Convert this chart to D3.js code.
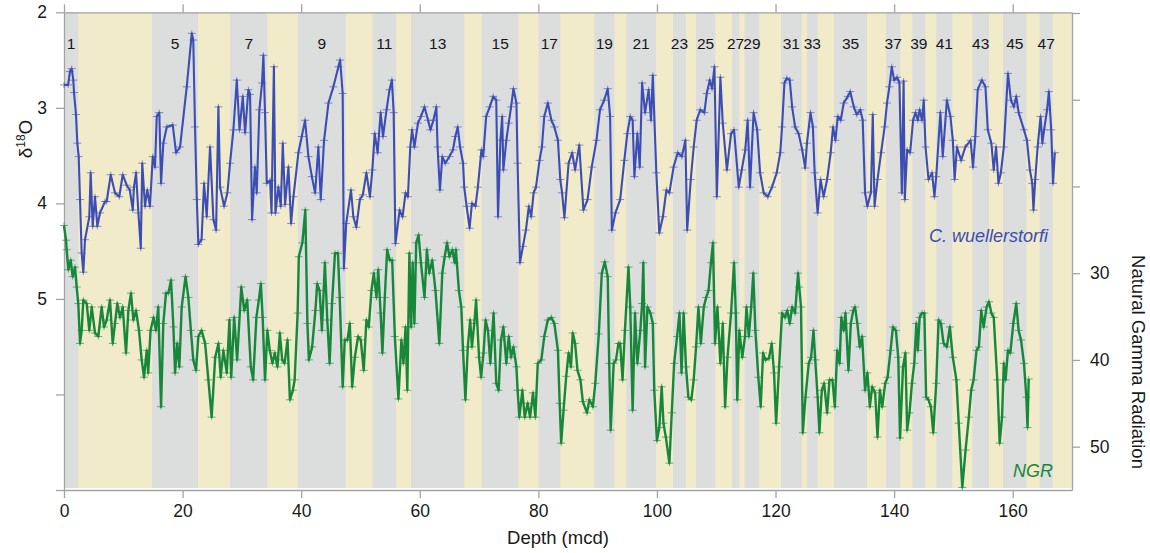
<!DOCTYPE html>
<html>
<head>
<meta charset="utf-8">
<script src="https://cdn.jsdelivr.net/npm/d3@7"></script>
<style>
  body { margin: 0; background: #fff; }
  svg text { font-family: "Liberation Sans", Arial, Helvetica, sans-serif; }
</style>
</head>
<body>
<svg id="chart" width="1150" height="553"></svg>
<script>
// marine isotope stages (odd = interglacial, grey bands), depth in mcd
var stageNumbers = [1, 5, 7, 9, 11, 13, 15, 17, 19, 21, 23, 25, 27, 29, 31, 33, 35, 37, 39, 41, 43, 45, 47];
var stageTop = [0, 14.85, 28.01, 39.43, 52.02, 58.55, 70.47, 80.02, 89.42, 94.82, 102.70, 106.58, 112.65,
                114.78, 120.92, 125.31, 129.86, 138.64, 143.07, 147.12, 153.20, 158.38, 164.55];
var stageBase = [2.41, 22.61, 34.30, 47.53, 56.0, 67.50, 76.65, 83.68, 92.85, 99.83, 104.89, 109.84, 113.89,
                 117.26, 124.40, 127.10, 135.43, 141.05, 145.27, 149.82, 156.02, 162.31, 166.75];

var depthTicks = [0, 20, 40, 60, 80, 100, 120, 140, 160];
var d18oTicks = [2, 3, 4, 5, 6, 7];
var d18oLabels = [2, 3, 4, 5];
var ngrTicks = [0, 10, 20, 30, 40, 50];
var ngrLabels = [30, 40, 50];

// C. wuellerstorfi d18O  [depth, value]
var d18o = [[0,2.76],[0.7,2.76],[1.0,2.62],[1.3,2.59],[1.57,2.71],[1.69,2.84],[2.02,3.07],[2.25,3.37],[2.48,3.51],
  [2.7,3.96],[2.98,4.52],[3.26,4.72],[3.54,4.38],[4.27,4.14],[4.5,3.68],[4.84,4.24],[5.23,3.93],[5.62,4.24],
  [6.07,4.10],[6.92,3.98],[7.2,3.98],[7.88,3.70],[8.6,3.89],[9.33,3.93],[9.9,3.70],[10.57,3.81],[11.1,3.86],
  [11.6,4.07],[11.8,3.83],[12.15,3.68],[12.55,4.10],[12.95,4.47],[13.2,3.58],[13.66,4.03],[14.05,3.86],[14.5,4.03],
  [14.97,3.51],[15.35,3.62],[15.64,3.09],[16.07,3.05],[16.37,3.79],[16.75,3.37],[17.33,3.20],[18.34,3.18],
  [18.9,3.47],[19.57,3.41],[20.7,2.78],[21.55,2.22],[21.8,2.29],[22.1,3.20],[22.4,3.96],[22.66,4.43],[23.2,4.38],
  [23.62,3.79],[24.07,4.14],[24.63,3.41],[25.2,4.17],[25.65,4.28],[26.04,2.99],[26.32,3.83],[27.0,4.03],
  [27.56,3.89],[28.0,3.58],[28.57,3.23],[29.14,2.71],[29.6,3.23],[30.15,2.88],[30.54,3.26],[31.1,2.81],
  [31.38,2.86],[31.72,4.17],[32.2,3.62],[32.5,3.89],[32.95,3.02],[33.4,2.74],[33.63,2.45],[33.9,3.05],[34.2,3.79],
  [34.75,3.76],[35.0,4.10],[35.4,2.57],[35.66,4.10],[36.16,3.83],[36.56,4.03],[36.9,3.37],[37.29,4.01],
  [37.85,3.62],[38.3,4.21],[38.7,3.93],[39.53,3.47],[40.1,3.30],[40.66,3.13],[41.22,3.51],[41.8,3.72],
  [42.35,3.89],[42.9,3.41],[43.3,3.96],[43.86,3.34],[44.6,2.95],[45.43,2.78],[46.28,2.57],[46.57,2.50],
  [47.0,2.85],[47.2,4.68],[47.6,4.21],[48.4,3.86],[48.8,4.14],[49.3,4.25],[49.9,3.96],[50.4,3.91],[51.0,3.68],
  [51.6,3.93],[52.0,3.65],[52.4,3.27],[52.9,3.47],[53.4,3.05],[53.8,3.30],[54.4,3.02],[54.9,2.81],[55.3,2.71],
  [55.6,3.05],[55.9,4.42],[56.6,4.07],[57.1,4.14],[57.6,3.89],[58.0,3.93],[58.4,3.41],[58.7,3.23],[59.1,3.41],
  [59.7,3.16],[60.2,3.09],[60.8,2.99],[61.4,3.13],[61.8,3.23],[62.3,3.13],[62.8,2.99],[63.0,3.41],[63.4,3.86],
  [63.8,3.51],[64.3,3.58],[65.0,3.51],[65.6,3.44],[66.0,3.30],[66.4,3.20],[66.8,3.41],[67.3,3.58],[67.5,3.83],
  [67.9,4.03],[68.4,4.26],[68.8,4.00],[69.4,4.03],[69.8,3.83],[70.4,3.44],[70.7,3.51],[71.2,3.09],[71.8,2.99],
  [72.4,2.88],[72.9,2.92],[73.2,4.14],[73.6,3.34],[73.9,3.09],[74.1,3.65],[74.6,3.34],[75.0,3.16],[75.4,2.99],
  [75.8,2.80],[76.3,2.95],[76.5,3.58],[76.9,4.62],[77.4,4.45],[77.9,4.28],[78.4,4.03],[78.8,4.14],[79.2,3.89],
  [79.6,3.83],[80.2,3.55],[80.6,3.41],[81.0,3.09],[81.6,2.95],[82.2,3.13],[82.7,3.20],[83.3,3.34],[83.7,3.75],
  [84.0,3.89],[84.4,4.15],[85.1,3.58],[85.7,3.47],[86.2,3.65],[86.9,3.39],[87.6,4.07],[88.3,3.96],[89.0,3.62],
  [89.8,3.34],[90.4,3.02],[91.1,2.92],[91.7,2.80],[92.1,3.09],[92.4,4.28],[93.0,4.10],[93.8,3.96],[94.5,3.55],
  [95.0,3.27],[95.5,3.09],[95.9,3.13],[96.2,3.72],[96.7,3.27],[97.1,3.62],[97.5,2.74],[98.0,3.05],[98.6,2.81],
  [99.0,3.13],[99.3,2.66],[99.9,3.68],[100.4,4.31],[101.0,4.14],[101.6,3.86],[102.1,3.89],[102.8,3.62],
  [103.5,3.47],[104.2,3.51],[104.8,3.34],[105.1,4.28],[105.7,3.75],[106.2,3.41],[106.7,3.13],[107.3,3.02],
  [108.0,3.05],[108.4,2.85],[108.9,2.71],[109.3,2.80],[109.7,2.57],[110.1,3.93],[110.7,2.68],[111.1,3.16],
  [111.8,3.65],[112.5,3.27],[113.0,3.23],[113.8,3.83],[114.3,3.65],[114.9,3.44],[115.3,3.13],[115.7,3.83],
  [116.3,3.05],[116.9,3.23],[117.4,3.68],[118.0,3.89],[118.7,3.93],[119.4,3.83],[120.2,3.68],[120.8,3.47],
  [121.1,3.20],[121.5,2.74],[121.9,2.69],[122.4,2.71],[122.8,2.99],[123.3,3.20],[123.9,3.27],[124.5,3.44],
  [125.0,3.63],[125.3,3.37],[125.9,3.05],[126.3,3.20],[126.6,3.68],[127.1,4.10],[127.6,3.75],[128.1,3.93],
  [128.7,3.75],[129.3,3.47],[129.7,3.20],[130.1,3.34],[130.5,3.09],[131.0,3.13],[131.5,2.95],[132.2,2.88],
  [132.6,2.83],[133.2,2.99],[133.7,3.07],[134.3,3.02],[134.7,3.13],[135.1,3.89],[135.5,4.03],[136.1,3.88],
  [136.4,3.07],[136.7,4.03],[137.2,3.75],[137.8,3.47],[138.4,3.20],[138.8,2.95],[139.2,2.78],[139.6,2.57],
  [140.0,2.71],[140.5,2.68],[140.9,2.74],[141.3,3.89],[141.6,2.72],[141.8,3.96],[142.2,3.44],[142.7,3.47],
  [143.2,3.13],[143.6,3.05],[144.0,3.13],[144.3,3.02],[144.7,3.13],[145.0,2.92],[145.3,3.41],[145.8,3.75],
  [146.4,3.68],[146.8,3.93],[147.1,3.72],[147.8,3.05],[148.2,3.51],[148.9,2.92],[149.5,3.09],[149.9,3.34],
  [150.2,3.75],[150.6,3.41],[151.3,3.55],[152.0,3.41],[152.9,3.34],[153.3,3.62],[153.7,3.30],[154.1,2.81],
  [154.8,2.71],[155.4,2.78],[155.8,3.23],[156.4,3.37],[156.8,3.65],[157.2,3.41],[157.6,3.79],[158.0,3.68],
  [158.5,3.41],[159.2,2.64],[159.7,2.92],[160.2,2.99],[160.6,2.88],[161.0,3.05],[161.9,3.23],[162.4,3.34],
  [162.9,3.65],[163.3,3.79],[163.5,4.07],[163.8,3.75],[164.2,3.41],[164.7,3.09],[165.0,3.37],[165.3,3.23],
  [165.8,3.02],[166.1,2.83],[166.5,3.23],[166.8,3.79],[167.1,3.47]];

// natural gamma radiation  [depth, value]
var ngr = [[0,24.5],[0.34,26.2],[0.45,27.3],[0.73,29.6],[1.13,28.5],[1.46,30.4],[1.86,29.3],[2.14,31.6],[2.41,33.5],
  [2.7,38.1],[2.98,36.6],[3.26,33.1],[3.83,33.5],[4.27,36.6],[4.67,33.9],[5.23,36.9],[5.79,37.3],[6.35,33.9],
  [6.75,36.2],[7.2,35.4],[7.76,33.1],[8.21,38.1],[8.6,35.8],[8.99,33.5],[9.45,35.1],[9.9,33.9],[10.46,39.2],
  [10.85,34.3],[11.3,32.3],[11.7,35.4],[12.15,34.3],[12.65,36.6],[13.1,40.0],[13.5,42.0],[13.95,38.9],[14.2,41.5],
  [14.6,36.6],[15.1,35.1],[15.5,36.6],[15.9,33.9],[16.37,45.4],[16.75,35.8],[17.2,32.3],[17.6,32.3],[18.05,30.8],
  [18.45,36.2],[18.73,41.5],[19.1,38.1],[19.45,40.8],[19.85,33.9],[20.5,30.4],[20.97,32.8],[21.4,36.6],[21.8,40.0],
  [22.27,41.2],[22.66,37.3],[23.2,36.6],[23.8,38.1],[24.35,42.3],[24.9,46.6],[25.5,39.7],[26.05,38.1],[26.43,42.0],
  [26.88,38.9],[27.45,41.5],[27.9,35.4],[28.2,42.0],[28.7,35.1],[29.2,40.0],[29.9,31.6],[30.4,34.3],[30.9,33.1],
  [31.5,40.8],[31.9,42.3],[32.45,35.1],[32.85,33.1],[33.2,31.2],[33.5,35.1],[33.9,42.3],[34.3,36.6],[34.7,38.9],
  [35.15,40.4],[35.55,39.2],[36.0,40.8],[36.4,36.9],[36.8,40.0],[37.2,40.4],[37.7,37.7],[38.1,44.6],[38.6,43.5],
  [38.9,42.3],[39.4,34.6],[39.6,28.1],[40.2,26.5],[40.7,22.7],[41.05,35.8],[41.3,40.0],[41.85,38.5],[42.4,34.3],
  [42.7,31.2],[43.1,32.0],[43.5,36.6],[44.0,28.8],[44.4,35.4],[44.8,40.4],[45.2,33.5],[45.7,27.7],[46.2,27.7],
  [46.5,32.8],[47.0,43.1],[47.35,37.7],[47.8,37.7],[48.2,35.8],[48.6,43.1],[49.05,39.7],[49.6,37.3],[50.05,37.7],
  [50.55,41.2],[51.0,35.4],[51.4,36.2],[51.85,32.0],[52.25,30.0],[52.7,32.8],[53.0,29.6],[53.4,34.6],[53.7,39.2],
  [54.1,32.8],[54.5,27.3],[54.95,28.5],[55.35,28.5],[55.8,37.3],[56.4,44.5],[56.9,37.7],[57.25,40.4],[57.6,36.2],
  [57.9,43.5],[58.25,27.7],[58.55,36.2],[58.8,28.8],[59.1,35.8],[59.4,26.5],[59.8,25.6],[60.2,28.8],[60.8,32.8],
  [61.2,27.3],[61.6,30.0],[62.1,28.5],[62.65,32.0],[63.3,38.1],[63.8,30.0],[64.2,28.1],[64.6,26.5],[65.0,28.1],
  [65.5,27.3],[65.9,28.8],[66.1,27.3],[66.6,32.0],[67.0,33.9],[67.3,38.9],[67.7,44.6],[68.1,38.5],[68.5,35.4],
  [68.8,38.5],[69.2,35.8],[69.5,33.1],[70.0,39.7],[70.35,42.0],[70.75,39.2],[71.1,35.4],[71.5,36.6],[71.9,40.4],
  [72.45,34.6],[72.9,42.7],[73.3,43.5],[73.7,37.7],[74.1,36.2],[74.6,40.4],[75.0,37.3],[75.4,39.7],[75.8,38.5],
  [76.3,40.8],[76.5,43.5],[76.8,46.6],[77.3,43.5],[77.7,46.6],[78.2,45.0],[78.6,46.6],[79.1,43.8],[79.5,46.6],
  [79.9,40.4],[80.5,40.0],[81.0,37.3],[81.6,35.4],[82.2,35.1],[82.7,35.8],[83.3,38.9],[83.6,45.0],[83.85,49.6],
  [84.25,45.8],[84.7,41.9],[85.1,39.2],[85.5,40.8],[85.8,36.9],[86.2,38.1],[86.6,41.2],[87.1,42.3],[87.5,44.8],
  [88.2,46.1],[88.6,44.6],[89.2,45.4],[89.6,42.7],[90.2,37.0],[90.7,30.0],[91.2,28.7],[91.7,30.4],[91.95,40.4],
  [92.2,48.1],[92.7,40.4],[93.1,40.0],[93.5,38.1],[93.8,38.1],[94.2,42.3],[94.6,36.6],[95.2,29.3],[95.5,33.9],
  [95.9,45.8],[96.3,34.6],[96.7,40.4],[97.2,36.6],[97.5,33.5],[97.7,28.8],[98.0,40.8],[98.4,33.9],[98.9,34.6],
  [99.3,35.8],[99.55,43.5],[100.0,49.3],[100.4,47.8],[100.8,43.1],[101.1,47.3],[101.5,48.9],[102.1,51.9],
  [102.5,46.1],[102.9,40.4],[103.4,37.3],[103.8,34.6],[104.15,41.5],[104.5,34.6],[104.9,40.8],[105.3,44.3],
  [105.8,44.6],[106.2,42.3],[106.6,38.5],[107.0,33.9],[107.4,38.1],[107.9,33.9],[108.3,32.8],[108.7,32.0],
  [109.1,28.8],[109.45,26.5],[109.8,38.1],[110.2,33.9],[110.7,40.4],[111.1,35.8],[111.5,45.4],[111.9,39.7],
  [112.5,34.6],[113.0,28.8],[113.3,34.6],[113.55,44.6],[113.9,36.6],[114.4,39.7],[114.85,37.3],[115.1,33.9],
  [115.5,37.3],[115.9,33.9],[116.25,30.0],[116.6,36.6],[117.1,42.0],[117.5,45.4],[117.9,39.2],[118.3,40.0],
  [118.9,39.8],[119.35,38.1],[119.75,41.5],[120.1,47.3],[120.6,40.8],[121.1,34.6],[121.6,35.1],[122.0,34.3],
  [122.4,35.8],[122.8,33.9],[123.3,34.6],[123.8,30.0],[124.0,31.6],[124.3,33.9],[124.6,48.4],[125.05,44.3],
  [125.6,40.4],[126.0,39.7],[126.4,36.6],[126.7,40.0],[127.1,44.3],[127.4,48.4],[127.8,43.5],[128.2,42.7],
  [128.7,46.1],[129.1,42.3],[129.6,42.3],[130.0,45.4],[130.4,38.9],[130.8,40.4],[131.1,35.1],[131.5,36.6],
  [131.8,34.6],[132.3,41.2],[132.7,35.8],[133.1,34.3],[133.4,33.9],[133.8,35.8],[134.2,38.5],[134.6,37.3],
  [135.1,43.5],[135.5,41.5],[135.9,45.4],[136.3,43.1],[136.8,43.8],[137.2,48.9],[137.6,43.5],[138.0,45.4],
  [138.5,42.7],[138.9,42.0],[139.4,38.9],[139.8,36.2],[140.3,36.6],[140.7,39.7],[141.0,49.0],[141.5,40.8],
  [141.9,39.2],[142.2,48.1],[142.6,46.1],[143.0,42.7],[143.4,40.4],[143.75,35.8],[144.0,38.9],[144.3,35.1],
  [144.7,34.6],[145.1,34.6],[145.4,44.3],[145.8,44.6],[146.2,45.4],[146.6,48.4],[147.1,42.7],[147.5,35.4],
  [147.9,35.8],[148.35,38.1],[148.9,38.5],[149.4,36.2],[149.9,39.7],[150.5,42.3],[150.9,47.3],[151.5,54.7],
  [152.05,50.4],[152.6,46.6],[153.0,43.5],[153.4,42.3],[153.9,38.9],[154.3,38.5],[154.7,34.3],[155.1,36.2],
  [155.6,33.9],[156.0,33.3],[156.4,34.6],[156.8,35.1],[157.4,42.3],[157.8,49.6],[158.2,46.6],[158.5,40.4],
  [158.8,42.3],[159.2,38.9],[159.6,39.2],[160.1,35.8],[160.6,33.5],[161.0,36.6],[161.4,37.7],[161.9,40.4],
  [162.3,44.3],[162.5,47.8],[162.7,42.2]];

var blue = "#3c4db4", green = "#17873a", axisGrey = "#a3a3a3";

var svg = d3.select("#chart");

var x = d3.scaleLinear().domain([0, 170]).range([64, 1072]);
var yIso = d3.scaleLinear().domain([2, 7]).range([12.3, 490]);
var yNgr = d3.scaleLinear().domain([0, 55]).range([13, 490]);

// background: yellow (glacials) with grey interglacial bands
svg.append("rect")
   .attr("x", x(0)).attr("y", yIso(2))
   .attr("width", x(170) - x(0)).attr("height", 488 - yIso(2))
   .attr("fill", "#f1ebc9");

var stages = stageNumbers.map(function(n, i) { return {n: n, top: stageTop[i], base: stageBase[i]}; });

svg.append("g").selectAll("rect")
   .data(stages)
   .enter().append("rect")
     .attr("x", function(d) { return x(d.top); })
     .attr("y", yIso(2))
     .attr("width", function(d) { return x(d.base) - x(d.top); })
     .attr("height", 488 - yIso(2))
     .attr("fill", "#dcdddd");

svg.append("g").selectAll("text")
   .data(stages)
   .enter().append("text")
     .attr("x", function(d) { return x((d.top + d.base) / 2); })
     .attr("y", 49)
     .attr("text-anchor", "middle")
     .style("font-size", "15.5px")
     .style("fill", "#161616")
     .text(function(d) { return d.n; });

// axes
function styleAxis(g) {
  g.selectAll("path, line").attr("stroke", axisGrey).attr("stroke-width", 1.3);
  g.selectAll("text").style("font-size", "17.5px").style("fill", "#1a1a1a")
   .style("font-family", "'Liberation Sans', Arial, sans-serif");
}

svg.append("g")
   .attr("transform", "translate(0,490)")
   .call(d3.axisBottom(x).tickValues(depthTicks).tickSize(8).tickSizeOuter(0).tickPadding(7))
   .call(styleAxis);

svg.append("g")
   .attr("transform", "translate(0," + yIso(2) + ")")
   .call(d3.axisTop(x).tickValues(depthTicks).tickSize(8).tickSizeOuter(0).tickFormat(""))
   .call(styleAxis);

svg.append("g")
   .attr("transform", "translate(64,0)")
   .call(d3.axisLeft(yIso).tickValues(d18oTicks).tickSize(8).tickSizeOuter(0).tickPadding(9)
           .tickFormat(function(d) { return d18oLabels.indexOf(d) >= 0 ? d : ""; }))
   .call(styleAxis);

svg.append("g")
   .attr("transform", "translate(1072,0)")
   .call(d3.axisRight(yNgr).tickValues(ngrTicks).tickSize(8).tickSizeOuter(0).tickPadding(10)
           .tickFormat(function(d) { return ngrLabels.indexOf(d) >= 0 ? d : ""; }))
   .call(styleAxis);

// series
function drawSeries(data, yScale, colour, width) {
  var line = d3.line()
    .x(function(d) { return x(d[0]); })
    .y(function(d) { return yScale(d[1]); });

  var g = svg.append("g");
  g.append("path")
   .datum(data)
   .attr("d", line)
   .attr("fill", "none")
   .attr("stroke", colour)
   .attr("stroke-width", width)
   .attr("stroke-linejoin", "round");

  g.selectAll(".mark")
   .data(data)
   .enter().append("path")
     .classed("mark", true)
     .attr("d", function(d) {
       var px = x(d[0]), py = yScale(d[1]);
       return "M" + (px - 4) + "," + py + "h8M" + px + "," + (py - 3) + "v6";
     })
     .attr("stroke", colour)
     .attr("stroke-width", 1)
     .attr("opacity", 0.6);
}

drawSeries(ngr, yNgr, green, 2.4);
drawSeries(d18o, yIso, blue, 2.1);

// titles
svg.append("text")
   .attr("x", 558).attr("y", 544)
   .attr("text-anchor", "middle")
   .style("font-size", "18.5px").style("fill", "#1a1a1a")
   .text("Depth (mcd)");

var yTitle = svg.append("text")
   .attr("transform", "translate(32,139) rotate(-90)")
   .attr("text-anchor", "middle")
   .style("font-size", "19px").style("fill", "#1a1a1a");
yTitle.append("tspan").text("δ");
yTitle.append("tspan").attr("dy", -7).style("font-size", "12px").text("18");
yTitle.append("tspan").attr("dy", 7).text("O");

svg.append("text")
   .attr("transform", "translate(1132,362) rotate(90)")
   .attr("text-anchor", "middle")
   .style("font-size", "18.5px").style("fill", "#1a1a1a")
   .text("Natural Gamma Radiation");

svg.append("text")
   .attr("x", 1048).attr("y", 242)
   .attr("text-anchor", "end")
   .style("font-size", "18px").style("font-style", "italic").style("fill", blue)
   .text("C. wuellerstorfi");

svg.append("text")
   .attr("x", 1053).attr("y", 477)
   .attr("text-anchor", "end")
   .style("font-size", "18px").style("font-style", "italic").style("fill", green)
   .text("NGR");
</script>
</body>
</html>
